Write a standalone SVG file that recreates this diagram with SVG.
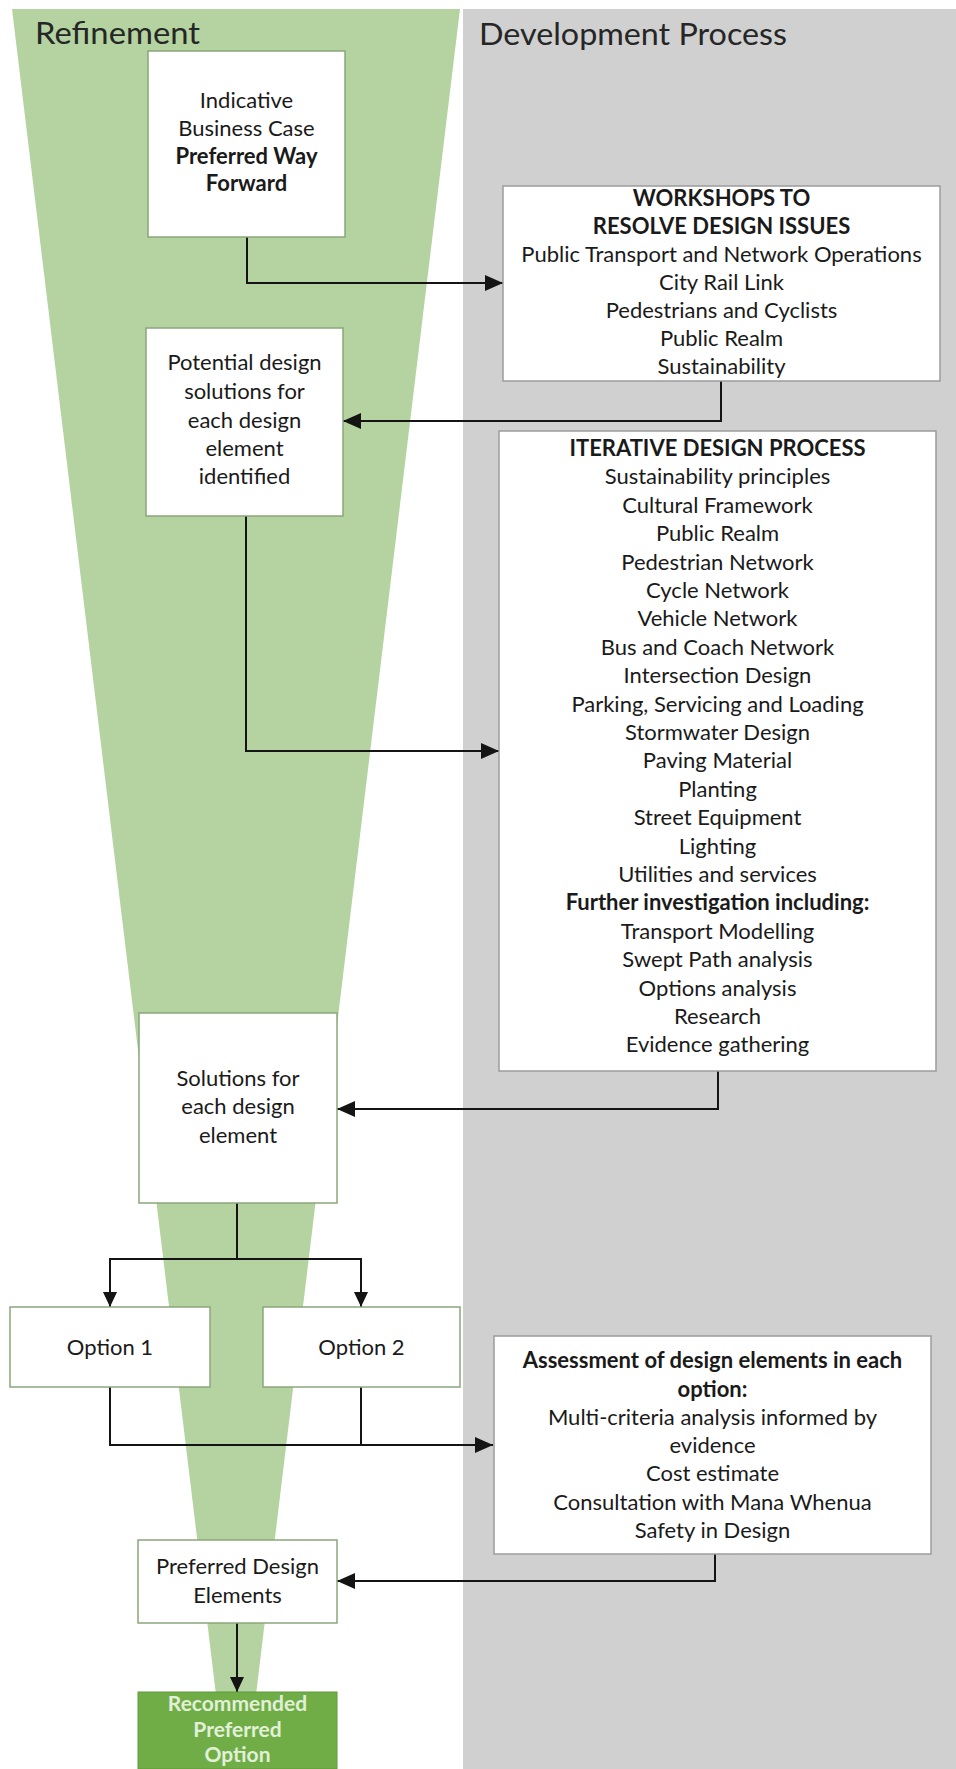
<svg xmlns="http://www.w3.org/2000/svg" width="956" height="1769" viewBox="0 0 956 1769">
<defs>
<marker id="ah" viewBox="0 0 18 16" refX="18" refY="8" markerWidth="18" markerHeight="16" markerUnits="userSpaceOnUse" orient="auto">
<path d="M0,0 L18,8 L0,16 z" fill="#141414"/>
</marker>
<marker id="ahs" viewBox="0 0 15 14" refX="15" refY="7" markerWidth="15" markerHeight="14" markerUnits="userSpaceOnUse" orient="auto">
<path d="M0,0 L15,7 L0,14 z" fill="#141414"/>
</marker>
</defs>
<style>
.t{font-family:Lato,'Liberation Sans',sans-serif;font-size:22px;fill:#1a1a1a;text-anchor:middle}
.b{font-weight:bold}
.h{font-family:Lato,'Liberation Sans',sans-serif;font-size:30px;fill:#262626}
.lbox{fill:#ffffff;stroke:#8ba77b;stroke-width:1.5}
.rbox{fill:#ffffff;stroke:#9c9c9c;stroke-width:1.5}
.c{fill:none;stroke:#141414;stroke-width:2}
.a{marker-end:url(#ah)}
.as{marker-end:url(#ahs)}
.rec{fill:#70ad47;stroke:#5f9a3c;stroke-width:1}
.rt{font-family:Lato,'Liberation Sans',sans-serif;font-size:21px;font-weight:bold;fill:#e2f0d9;text-anchor:middle}
</style>
<rect x="0" y="0" width="956" height="1769" fill="#ffffff"/>
<g id="panels">
<rect x="463" y="9" width="493" height="1760" fill="#d0d0d0"/>
<polygon points="12,9 460,9 247,1769 225,1769" fill="#b4d3a0"/>
<text class="h" x="35" y="44" textLength="165" lengthAdjust="spacingAndGlyphs">Refinement</text>
<text class="h" x="479" y="45" textLength="308" lengthAdjust="spacingAndGlyphs">Development Process</text>
</g>
<g id="connectors">
<path class="c a" d="M247,237 V283 H503"/>
<path class="c a" d="M721,381 V421 H343"/>
<path class="c a" d="M246,516 V751 H499"/>
<path class="c a" d="M718,1071 V1109 H337"/>
<path class="c" d="M237,1203 V1259"/>
<path class="c as" d="M237,1259 H110 V1307"/>
<path class="c as" d="M237,1259 H361 V1307"/>
<path class="c" d="M361,1387 V1445"/>
<path class="c a" d="M110,1387 V1445 H493"/>
<path class="c a" d="M715,1554 V1581 H337"/>
<path class="c as" d="M237,1623 V1692"/>
</g>
<g id="node-indicative">
<rect class="lbox" x="148" y="51" width="197" height="186"/>
<text class="t" x="246.5" y="108">Indicative</text>
<text class="t" x="246.5" y="136">Business Case</text>
<text class="t b" x="246.5" y="164">Preferred Way</text>
<text class="t b" x="246.5" y="191">Forward</text>
</g>
<g id="node-workshops">
<rect class="rbox" x="503" y="186" width="437" height="195"/>
<text class="t b" x="721.5" y="206">WORKSHOPS TO</text>
<text class="t b" x="721.5" y="234">RESOLVE DESIGN ISSUES</text>
<text class="t" x="721.5" y="262">Public Transport and Network Operations</text>
<text class="t" x="721.5" y="290">City Rail Link</text>
<text class="t" x="721.5" y="318">Pedestrians and Cyclists</text>
<text class="t" x="721.5" y="346">Public Realm</text>
<text class="t" x="721.5" y="374">Sustainability</text>
</g>
<g id="node-potential">
<rect class="lbox" x="146" y="328" width="197" height="188"/>
<text class="t" x="244.5" y="370">Potential design</text>
<text class="t" x="244.5" y="399">solutions for</text>
<text class="t" x="244.5" y="428">each design</text>
<text class="t" x="244.5" y="456">element</text>
<text class="t" x="244.5" y="484">identified</text>
</g>
<g id="node-iterative">
<rect class="rbox" x="499" y="431" width="437" height="640"/>
<text class="t b" x="717.5" y="456">ITERATIVE DESIGN PROCESS</text>
<text class="t" x="717.5" y="484.4">Sustainability principles</text>
<text class="t" x="717.5" y="512.8">Cultural Framework</text>
<text class="t" x="717.5" y="541.2">Public Realm</text>
<text class="t" x="717.5" y="569.6">Pedestrian Network</text>
<text class="t" x="717.5" y="598">Cycle Network</text>
<text class="t" x="717.5" y="626.4">Vehicle Network</text>
<text class="t" x="717.5" y="654.8">Bus and Coach Network</text>
<text class="t" x="717.5" y="683.2">Intersection Design</text>
<text class="t" x="717.5" y="711.6">Parking, Servicing and Loading</text>
<text class="t" x="717.5" y="740">Stormwater Design</text>
<text class="t" x="717.5" y="768.4">Paving Material</text>
<text class="t" x="717.5" y="796.8">Planting</text>
<text class="t" x="717.5" y="825.2">Street Equipment</text>
<text class="t" x="717.5" y="853.6">Lighting</text>
<text class="t" x="717.5" y="882">Utilities and services</text>
<text class="t b" x="717.5" y="910.4">Further investigation including:</text>
<text class="t" x="717.5" y="938.8">Transport Modelling</text>
<text class="t" x="717.5" y="967.2">Swept Path analysis</text>
<text class="t" x="717.5" y="995.6">Options analysis</text>
<text class="t" x="717.5" y="1024">Research</text>
<text class="t" x="717.5" y="1052.4">Evidence gathering</text>
</g>
<g id="node-solutions">
<rect class="lbox" x="139" y="1013" width="198" height="190"/>
<text class="t" x="238" y="1086">Solutions for</text>
<text class="t" x="238" y="1114">each design</text>
<text class="t" x="238" y="1143">element</text>
</g>
<g id="node-option1">
<rect class="lbox" x="10" y="1307" width="200" height="80"/>
<text class="t" x="110" y="1355">Option 1</text>
</g>
<g id="node-option2">
<rect class="lbox" x="263" y="1307" width="197" height="80"/>
<text class="t" x="361.5" y="1355">Option 2</text>
</g>
<g id="node-assessment">
<rect class="rbox" x="494" y="1336" width="437" height="218"/>
<text class="t b" x="712.5" y="1368">Assessment of design elements in each</text>
<text class="t b" x="712.5" y="1396.5">option:</text>
<text class="t" x="712.5" y="1425">Multi-criteria analysis informed by</text>
<text class="t" x="712.5" y="1453">evidence</text>
<text class="t" x="712.5" y="1481">Cost estimate</text>
<text class="t" x="712.5" y="1510">Consultation with Mana Whenua</text>
<text class="t" x="712.5" y="1538">Safety in Design</text>
</g>
<g id="node-preferred">
<rect class="lbox" x="138" y="1540" width="199" height="83"/>
<text class="t" x="237.5" y="1574">Preferred Design</text>
<text class="t" x="237.5" y="1603">Elements</text>
</g>
<g id="node-recommended">
<rect class="rec" x="138" y="1692" width="199" height="77"/>
<text class="rt" x="237.5" y="1711">Recommended</text>
<text class="rt" x="237.5" y="1737">Preferred</text>
<text class="rt" x="237.5" y="1762">Option</text>
</g>
</svg>
